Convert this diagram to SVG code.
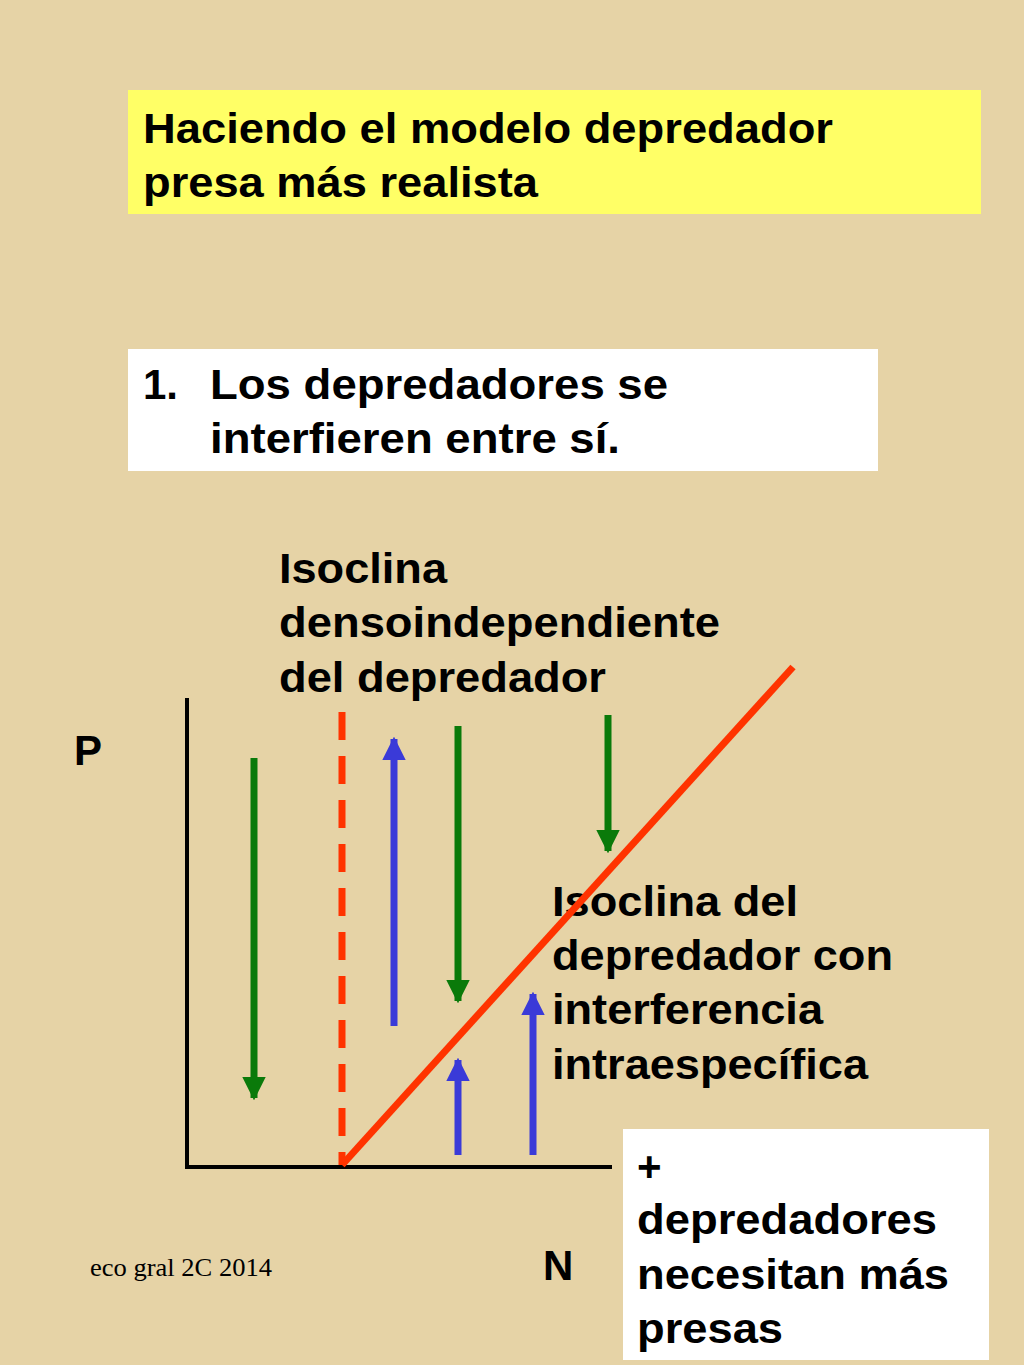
<svg xmlns="http://www.w3.org/2000/svg" width="1024" height="1365" viewBox="0 0 1024 1365">
<defs>
<style>
.t{font-family:"Liberation Sans",Arial,sans-serif;font-weight:bold;font-size:42px;fill:#000}
.g{stroke:#0A7A0A;stroke-width:7}
.b{stroke:#3A3AD8;stroke-width:7}
</style>
<marker id="hg" viewBox="0 0 10 10" refX="9" refY="5" markerWidth="3.4" markerHeight="3.6" orient="auto" markerUnits="strokeWidth"><path d="M0,0L10,5L0,10z" fill="#0A7A0A"/></marker>
<marker id="hb" viewBox="0 0 10 10" refX="9" refY="5" markerWidth="3.4" markerHeight="3.6" orient="auto" markerUnits="strokeWidth"><path d="M0,0L10,5L0,10z" fill="#3A3AD8"/></marker>
</defs>
<rect width="1024" height="1365" fill="#E6D3A6"/>
<g id="title"><rect x="128" y="90" width="853" height="124" fill="#FFFF66"/>
<text class="t" x="143" y="143" textLength="690" lengthAdjust="spacingAndGlyphs">Haciendo el modelo depredador</text><text class="t" x="143" y="197" textLength="395" lengthAdjust="spacingAndGlyphs">presa más realista</text></g>
<g id="point"><rect x="128" y="349" width="750" height="122" fill="#FFFFFF"/>
<text class="t" x="143" y="399">1.</text><text class="t" x="210" y="399" textLength="458" lengthAdjust="spacingAndGlyphs">Los depredadores se</text><text class="t" x="210" y="453" textLength="410" lengthAdjust="spacingAndGlyphs">interfieren entre sí.</text></g>
<g id="note"><rect x="623" y="1129" width="366" height="231" fill="#FFFFFF"/>
<text class="t" x="637" y="1181">+</text><text class="t" x="637" y="1234" textLength="300" lengthAdjust="spacingAndGlyphs">depredadores</text><text class="t" x="637" y="1289" textLength="312" lengthAdjust="spacingAndGlyphs">necesitan más</text><text class="t" x="637" y="1343" textLength="146" lengthAdjust="spacingAndGlyphs">presas</text></g>
<g id="labels">
<text class="t" x="279" y="583" textLength="168" lengthAdjust="spacingAndGlyphs">Isoclina</text><text class="t" x="279" y="637" textLength="441" lengthAdjust="spacingAndGlyphs">densoindependiente</text><text class="t" x="279" y="692" textLength="327" lengthAdjust="spacingAndGlyphs">del depredador</text>
<text class="t" x="552" y="916" textLength="246" lengthAdjust="spacingAndGlyphs">Isoclina del</text><text class="t" x="552" y="970" textLength="341" lengthAdjust="spacingAndGlyphs">depredador con</text><text class="t" x="552" y="1024" textLength="271" lengthAdjust="spacingAndGlyphs">interferencia</text><text class="t" x="552" y="1079" textLength="316" lengthAdjust="spacingAndGlyphs">intraespecífica</text>
<text class="t" x="74" y="765">P</text><text class="t" x="543" y="1280">N</text>
<text x="90" y="1276" font-family="Liberation Serif,serif" font-size="25" textLength="182" lengthAdjust="spacingAndGlyphs">eco gral 2C 2014</text></g>
<g id="connectors" fill="none">
<path d="M187,698V1167H612" stroke="#000" stroke-width="4"/>
<path d="M342,712V1165" stroke="#FF3300" stroke-width="7" stroke-dasharray="28,16"/>
<path d="M342,1165L793,667" stroke="#FF3300" stroke-width="7"/>
<path class="g" d="M254,758V1098" marker-end="url(#hg)"/>
<path class="g" d="M458,726V1001" marker-end="url(#hg)"/>
<path class="g" d="M608,715V851" marker-end="url(#hg)"/>
<path class="b" d="M394,1026V739" marker-end="url(#hb)"/>
<path class="b" d="M458,1155V1060" marker-end="url(#hb)"/>
<path class="b" d="M533,1155V994" marker-end="url(#hb)"/>
</g>
</svg>
